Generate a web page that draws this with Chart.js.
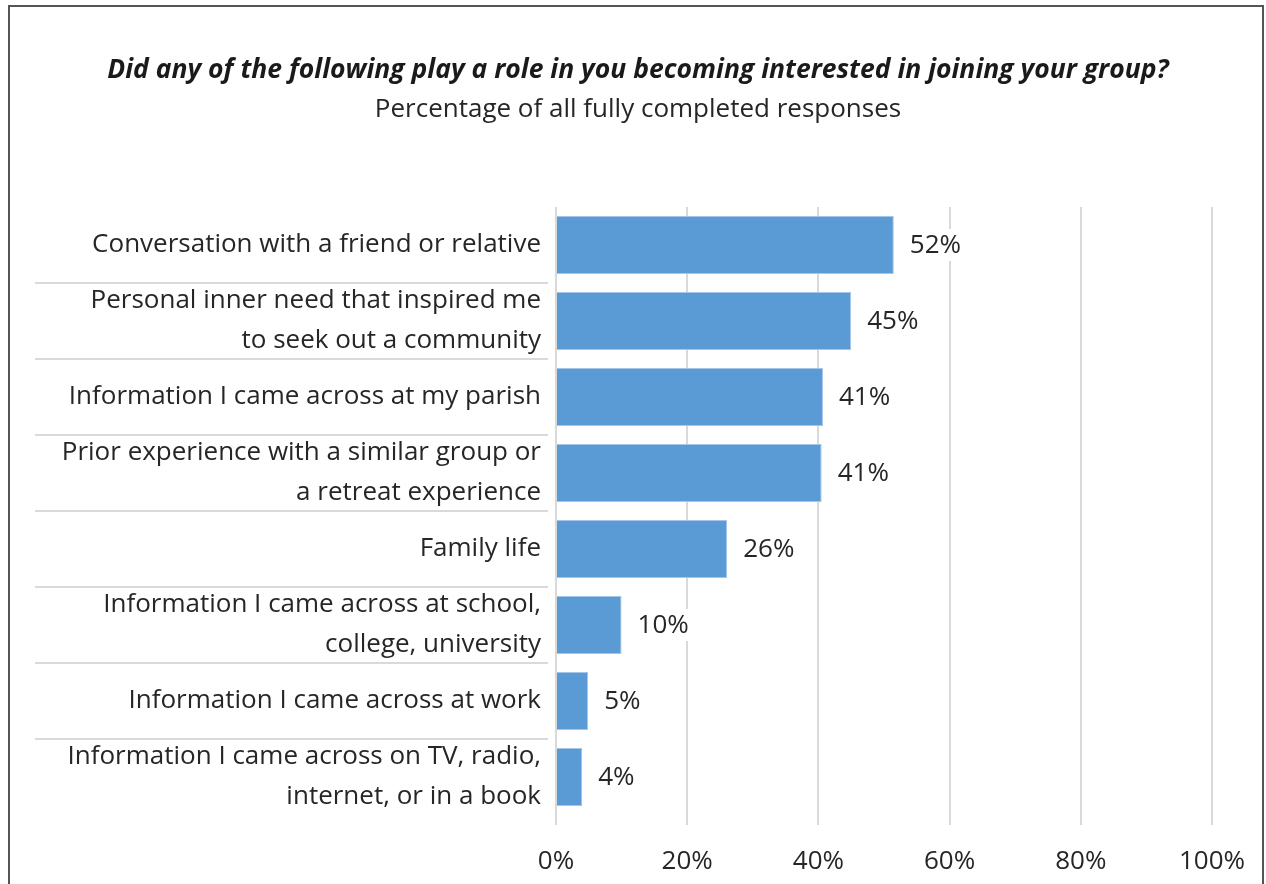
<!DOCTYPE html>
<html>
<head>
<meta charset="utf-8">
<title>Interest in joining</title>
<script src="https://cdn.jsdelivr.net/npm/chart.js@4"></script>
<style>
html, body { margin: 0; padding: 0; background: #fff; }
#wrap { position: relative; width: 1266px; height: 884px; overflow: hidden; }
#frame { position: absolute; left: 8px; top: 5px; width: 1252px; height: 900px; border: 2px solid #555; pointer-events: none; }
canvas { position: absolute; left: 0; top: 0; }
</style>
</head>
<body>
<div id="wrap">
    <canvas id="chart" width="1266" height="884"></canvas>
    <div id="frame"></div>
</div>
<script>
'use strict';

// data
var categories = [
    'Conversation with a friend or relative',
    ['Personal inner need that inspired me', 'to seek out a community'],
    'Information I came across at my parish',
    ['Prior experience with a similar group or', 'a retreat experience'],
    'Family life',
    ['Information I came across at school,', 'college, university'],
    'Information I came across at work',
    ['Information I came across on TV, radio,', 'internet, or in a book']
];
var percentages = [51.5, 45.0, 40.7, 40.5, 26.1, 10.0, 4.9, 4.0];
var xTicks = [0, 20, 40, 60, 80, 100];

var FONT = '"Open Sans"';
var TEXT = '#262626';

//lines between the categories, across the label area
var separators = {
    id: 'separators',
    afterDraw: function(chart) {
        var y = chart.scales.y;
        var ctx = chart.ctx;
        var step = y.getPixelForValue(1) - y.getPixelForValue(0);
        ctx.save();
        ctx.strokeStyle = '#d9d9d9';
        ctx.lineWidth = 2;
        for (var i = 1; i < categories.length; i++) {
            var py = Math.round(y.getPixelForValue(i) - step / 2);
            ctx.beginPath();
            ctx.moveTo(y.left + 25, py);
            ctx.lineTo(y.right - 8, py);
            ctx.stroke();
        }
        ctx.restore();
    }
};

//value labels at the end of each bar
var valueLabels = {
    id: 'valueLabels',
    afterDatasetsDraw: function(chart) {
        var ctx = chart.ctx;
        var meta = chart.getDatasetMeta(0);
        ctx.save();
        ctx.font = '26px ' + FONT;
        ctx.textAlign = 'left';
        ctx.textBaseline = 'middle';
        meta.data.forEach(function(bar, i) {
            var txt = Math.round(percentages[i]) + '%';
            var x = bar.x + 16;
            var w = ctx.measureText(txt).width;
            ctx.fillStyle = '#fff';
            ctx.fillRect(x - 2, bar.y - 16, w + 4, 32);
            ctx.fillStyle = TEXT;
            ctx.fillText(txt, x, bar.y + 1);
        });
        ctx.restore();
    }
};

var ctx = document.getElementById('chart').getContext('2d');
var chart = new Chart(ctx, {
    type: 'bar',
    data: {
        labels: categories,
        datasets: [{
            data: percentages,
            backgroundColor: '#5b9bd5',
            borderColor: '#a4c6e8',
            borderWidth: 1,
            barPercentage: 0.76,
            categoryPercentage: 1
        }]
    },
    options: {
        indexAxis: 'y',
        responsive: false,
        animation: false,
        devicePixelRatio: 1,
        layout: { padding: { left: 10, right: 0, top: 0, bottom: 7 } },
        plugins: {
            legend: { display: false },
            tooltip: { enabled: false },
            title: {
                display: true,
                text: 'Did any of the following play a role in you becoming interested in joining your group?',
                color: '#1a1a1a',
                font: { family: FONT, size: 26.5, weight: 'bold', style: 'italic' },
                padding: { top: 55, bottom: 7 }
            },
            subtitle: {
                display: true,
                text: 'Percentage of all fully completed responses',
                color: TEXT,
                font: { family: FONT, size: 26 },
                padding: { top: 0, bottom: 82 }
            }
        },
        scales: {
            x: {
                min: xTicks[0],
                max: xTicks[xTicks.length - 1],
                afterBuildTicks: function(scale) {
                    scale.ticks = xTicks.map(function(v) { return { value: v }; });
                },
                afterFit: function(scale) { scale.height = 62; },
                grid: { color: '#d9d9d9', lineWidth: 2, drawTicks: true, tickLength: 10 },
                border: { display: false },
                ticks: {
                    padding: 21,
                    color: TEXT,
                    font: { family: FONT, size: 26 },
                    maxRotation: 0,
                    callback: function(v) { return v + '%'; }
                }
            },
            y: {
                grid: { display: false, drawTicks: false },
                border: { display: false },
                afterFit: function(scale) {
                    scale.width = 546;
                    scale.paddingTop = 0;
                    scale.paddingBottom = 0;
                },
                ticks: {
                    autoSkip: false,
                    padding: 15,
                    color: TEXT,
                    font: { family: FONT, size: 26, lineHeight: 1.54 }
                }
            },
            // empty space right of the plot
            gap: {
                type: 'category',
                axis: 'y',
                position: 'right',
                grid: { display: false, drawTicks: false },
                border: { display: false },
                ticks: { display: false },
                afterFit: function(scale) { scale.width = 51; }
            }
        }
    },
    plugins: [separators, valueLabels]
});
</script>
</body>
</html>
